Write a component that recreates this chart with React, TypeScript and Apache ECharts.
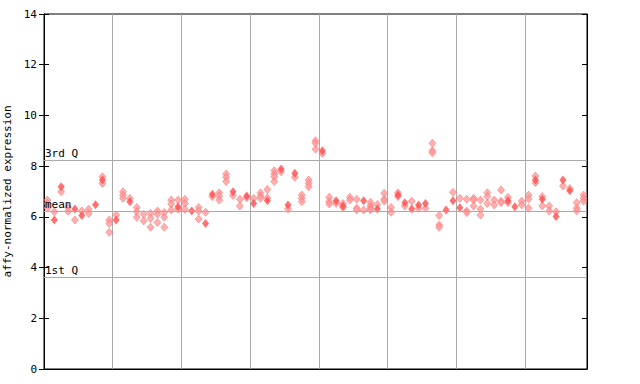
import React, { useEffect, useRef } from "react";
import * as echarts from "echarts";

// Replicate values per sample (hatched diamonds) and highlighted value (solid diamond)
const hatchedValues: number[][] = [
  [6.66, 6.53, 6.35], [6.2], [6.99], [6.38, 6.22], [5.88], [6.23], [6.3, 6.13], [],
  [7.58, 7.32], [5.88, 5.74, 5.39], [6.07], [6.99, 6.86, 6.73], [6.73], [6.37, 6.2, 5.98],
  [6.1, 5.84], [6.14, 5.94, 5.59], [6.23, 6.1, 5.78], [6.17, 5.98, 5.59], [6.66, 6.51, 6.27],
  [6.66, 6.3], [6.69, 6.53, 6.3], [], [6.37, 6.23, 5.92], [6.18], [6.8], [6.95, 6.82, 6.66],
  [7.69, 7.56, 7.39], [6.84], [6.69, 6.43], [6.75], [6.73], [6.95, 6.82, 6.73], [7.08, 6.75],
  [7.82, 7.69, 7.58, 7.39], [7.78], [6.31], [7.56], [6.86, 6.73, 6.6], [7.45, 7.32, 7.19],
  [9.0, 8.9, 8.67], [8.5], [6.77, 6.6, 6.51], [6.53], [6.53, 6.37], [6.77, 6.66],
  [6.69, 6.34, 6.27], [6.27], [6.57, 6.44, 6.34, 6.27], [6.49], [6.93, 6.7, 6.62],
  [6.37, 6.18], [6.95, 6.8], [6.43], [6.62], [6.34], [6.34], [8.9, 8.61, 8.53],
  [6.05, 5.68, 5.59], [], [6.97], [6.73], [6.69, 6.23, 6.17], [6.73, 6.66, 6.43],
  [6.66, 6.31, 6.07], [6.95, 6.8, 6.53], [6.66, 6.47], [7.06, 6.62, 6.56], [6.77, 6.56],
  [], [6.62, 6.47], [6.86, 6.7, 6.34], [7.61, 7.35], [6.8, 6.43], [6.43, 6.23], [6.2],
  [7.22], [7.12], [6.56, 6.34, 6.24], [6.86, 6.73, 6.62],
];

const filledValues: (number | null)[] = [
  null, 5.88, 7.19, null, 6.31, 6.05, null, 6.48,
  7.45, null, 5.88, null, 6.6, null,
  null, null, null, null, null,
  6.4, null, 6.23, null, 5.74, 6.89, null,
  null, 6.99, null, 6.82, 6.53, null, 6.64,
  null, 7.89, 6.47, 7.72, null, null,
  null, 8.61, null, 6.64, 6.43, null,
  null, 6.64, null, 6.31, null,
  null, 6.86, 6.56, 6.31, 6.47, 6.53, null,
  null, 6.27, 6.64, 6.36, null, null,
  null, null, null, null, 6.64,
  6.4, null, null, 7.45, 6.69, null, 6.01,
  7.45, 7.03, null, null,
];

const refLines = [
  { name: "3rd Q", value: 8.23 },
  { name: "mean", value: 6.23 },
  { name: "1st Q", value: 3.63 },
];

const yTicks = [0, 2, 4, 6, 8, 10, 12, 14];
const sampleCount = 79;

export default function App() {
  const ref = useRef<HTMLDivElement>(null);
  useEffect(() => {
    document.body.style.margin = "0";
    const chart = echarts.init(ref.current!, null, { renderer: "svg" });
    const hatchedData: number[][] = [];
    hatchedValues.forEach((vals, i) => vals.forEach((v) => hatchedData.push([i + 0.5, v])));
    const filledData: number[][] = [];
    filledValues.forEach((v, i) => {
      if (v !== null) filledData.push([i + 0.5, v]);
    });
    const font = "DejaVu Sans Mono";
    chart.setOption({
      animation: false,
      grid: {
        left: 44, top: 14, right: 53, bottom: 15,
        containLabel: false, outerBoundsMode: "none",
        show: true, borderColor: "#000", borderWidth: 1,
      },
      xAxis: {
        type: "value", min: 0, max: sampleCount, interval: 10,
        axisLine: { show: true, lineStyle: { color: "#000" } },
        axisTick: { show: false }, axisLabel: { show: false },
        splitLine: { show: true, lineStyle: { color: "#aaa", width: 1 } },
      },
      yAxis: [
        {
          type: "value", min: 0, max: 14, interval: 2, position: "left",
          name: "affy-normalized expression", nameLocation: "middle", nameGap: 26,
          nameTextStyle: { fontFamily: font, fontSize: 11, color: "#000" },
          axisLine: { show: true, lineStyle: { color: "#000" } },
          axisTick: { show: true, length: 5, lineStyle: { color: "#000" } },
          axisLabel: { fontFamily: font, fontSize: 11, color: "#000", margin: 7,
            formatter: (v: number) => (yTicks.includes(v) ? String(v) : "") },
          splitLine: { show: false },
        },
        {
          type: "value", min: 0, max: 14, interval: 2, position: "left", offset: 0,
          axisLine: { show: false },
          axisTick: { show: true, inside: true, length: 5, lineStyle: { color: "#000" } },
          axisLabel: { show: false }, splitLine: { show: false },
        },
        {
          type: "value", min: 0, max: 14, interval: 2, position: "right",
          axisLine: { show: true, lineStyle: { color: "#000" } },
          axisTick: { show: true, inside: true, length: 5, lineStyle: { color: "#000" } },
          axisLabel: { show: false }, splitLine: { show: false },
        },
      ],
      series: [
        {
          type: "scatter", data: hatchedData, symbol: "diamond", symbolSize: [7, 8],
          itemStyle: { color: "#ff9c9c", borderColor: "#ff6060", borderWidth: 0.6 },
          markLine: {
            silent: true, symbol: "none",
            lineStyle: { color: "#aaa", type: "solid", width: 1 },
            label: {
              show: true, position: "insideStartTop", distance: [1, 1],
              fontFamily: font, fontSize: 11, color: "#000",
              formatter: (p: any) => p.name,
            },
            data: refLines.map((r) => ({ name: r.name, yAxis: r.value })),
          },
        },
        {
          type: "scatter", data: filledData, symbol: "diamond", symbolSize: [7, 9],
          itemStyle: { color: "#ff4d4d" },
        },
      ],
    });
    return () => chart.dispose();
  }, []);
  return <div ref={ref} style={{ width: 640, height: 384 }} />;
}
